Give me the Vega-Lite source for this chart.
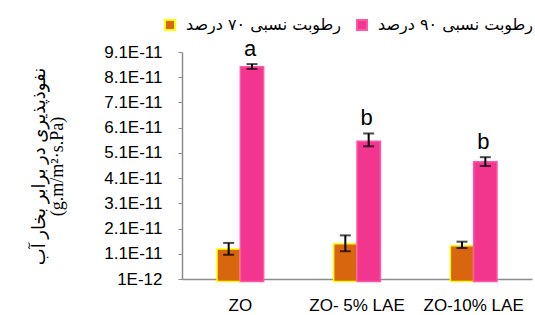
{
  "$schema": "https://vega.github.io/schema/vega-lite/v6.json",
  "autosize": {"type": "none"},
  "padding": {"left": 182, "top": 52, "right": 3, "bottom": 36},
  "width": 350,
  "height": 227,
  "background": "white",
  "config": {
    "view": {"stroke": null},
    "legend": {"labelLimit": 0},
    "axisY": {
      "labelOverlap": false, "labelFlush": false, "labelBound": false,
      "grid": false, "tickSize": 4, "tickColor": "#8c8c8c", "domainColor": "#8c8c8c", "domainWidth": 1.5,
      "labelPadding": 16, "labelFont": "Liberation Sans", "labelFontSize": 17, "labelColor": "#000000",
      "titleAngle": -90, "titleX": -143, "titleY": 114, "titleAlign": "center", "titleBaseline": "middle",
      "titleFont": "Liberation Serif, DejaVu Sans", "titleFontSize": 18, "titleFontWeight": "normal", "titleColor": "#000000", "titleLineHeight": 18
    }
  },
  "data": {"values": [
    {"treatment": "ZO", "series": "رطوبت نسبی  ۷۰ درصد", "value": 1.29e-11, "lo": 1.06e-11, "hi": 1.53e-11, "letter": ""},
    {"treatment": "ZO", "series": "رطوبت نسبی  ۹۰ درصد", "value": 8.52e-11, "lo": 8.43e-11, "hi": 8.62e-11, "letter": "a"},
    {"treatment": "ZO- 5% LAE", "series": "رطوبت نسبی  ۷۰ درصد", "value": 1.50e-11, "lo": 1.20e-11, "hi": 1.83e-11, "letter": ""},
    {"treatment": "ZO- 5% LAE", "series": "رطوبت نسبی  ۹۰ درصد", "value": 5.56e-11, "lo": 5.36e-11, "hi": 5.87e-11, "letter": "b"},
    {"treatment": "ZO-10% LAE", "series": "رطوبت نسبی  ۷۰ درصد", "value": 1.42e-11, "lo": 1.33e-11, "hi": 1.58e-11, "letter": ""},
    {"treatment": "ZO-10% LAE", "series": "رطوبت نسبی  ۹۰ درصد", "value": 4.75e-11, "lo": 4.58e-11, "hi": 4.93e-11, "letter": "b"}
  ]},
  "encoding": {
    "x": {
      "field": "treatment", "type": "nominal", "sort": null,
      "scale": {"paddingInner": 0.6, "paddingOuter": 0.3},
      "axis": {"title": null, "labelAngle": 0, "ticks": false, "labelPadding": 18, "labelFont": "Liberation Sans", "labelFontSize": 17, "labelColor": "#000000", "domainColor": "#8c8c8c", "domainWidth": 1.5}
    },
    "xOffset": {"field": "series", "type": "nominal", "sort": ["رطوبت نسبی  ۷۰ درصد", "رطوبت نسبی  ۹۰ درصد"]}
  },
  "layer": [
    {
      "mark": {"type": "bar", "strokeWidth": 1.5},
      "encoding": {
        "y": {
          "field": "value", "type": "quantitative",
          "scale": {"domain": [1e-12, 9.1e-11], "nice": false, "zero": false},
          "axis": {
            "values": [1e-12, 1.1e-11, 2.1e-11, 3.1e-11, 4.1e-11, 5.1e-11, 6.1e-11, 7.1e-11, 8.1e-11, 9.1e-11],
            "labelExpr": "upper(format(datum.value, '.2~e'))", "labelOverlap": false,
            "title": ["نفوذپذیری در برابر  بخار آب", "(g.m/m²·s.Pa)"]
          }
        },
        "color": {
          "field": "series", "type": "nominal",
          "scale": {"domain": ["رطوبت نسبی  ۷۰ درصد", "رطوبت نسبی  ۹۰ درصد"], "range": ["#D8660E", "#F2368F"]},
          "legend": {
            "title": null, "orient": "none", "legendX": -20, "legendY": -35, "direction": "horizontal",
            "symbolType": "square", "symbolSize": 100, "symbolStrokeWidth": 2, "symbolOpacity": 1,
            "labelFont": "DejaVu Sans", "labelFontSize": 16, "labelColor": "#000000", "labelOffset": 8, "labelLimit": 0, "columnPadding": 6, "padding": 0
          }
        },
        "stroke": {
          "field": "series", "type": "nominal",
          "scale": {"domain": ["رطوبت نسبی  ۷۰ درصد", "رطوبت نسبی  ۹۰ درصد"], "range": ["#FFFF00", "#FF55AA"]},
          "legend": null
        }
      }
    },
    {
      "mark": {"type": "rule", "color": "#000000", "strokeWidth": 2},
      "encoding": {"y": {"field": "lo", "type": "quantitative", "axis": {
            "values": [1e-12, 1.1e-11, 2.1e-11, 3.1e-11, 4.1e-11, 5.1e-11, 6.1e-11, 7.1e-11, 8.1e-11, 9.1e-11],
            "labelExpr": "upper(format(datum.value, '.2~e'))", "labelOverlap": false,
            "title": ["نفوذپذیری در برابر  بخار آب", "(g.m/m²·s.Pa)"]}}, "y2": {"field": "hi"}}
    },
    {
      "mark": {"type": "tick", "color": "#000000", "size": 11, "thickness": 2},
      "encoding": {"y": {"field": "lo", "type": "quantitative", "axis": {
            "values": [1e-12, 1.1e-11, 2.1e-11, 3.1e-11, 4.1e-11, 5.1e-11, 6.1e-11, 7.1e-11, 8.1e-11, 9.1e-11],
            "labelExpr": "upper(format(datum.value, '.2~e'))", "labelOverlap": false,
            "title": ["نفوذپذیری در برابر  بخار آب", "(g.m/m²·s.Pa)"]}}}
    },
    {
      "mark": {"type": "tick", "color": "#000000", "size": 11, "thickness": 2},
      "encoding": {"y": {"field": "hi", "type": "quantitative", "axis": {
            "values": [1e-12, 1.1e-11, 2.1e-11, 3.1e-11, 4.1e-11, 5.1e-11, 6.1e-11, 7.1e-11, 8.1e-11, 9.1e-11],
            "labelExpr": "upper(format(datum.value, '.2~e'))", "labelOverlap": false,
            "title": ["نفوذپذیری در برابر  بخار آب", "(g.m/m²·s.Pa)"]}}}
    },
    {
      "mark": {"type": "text", "baseline": "alphabetic", "dy": -8, "dx": -2, "font": "Liberation Sans", "fontSize": 22, "color": "#000000"},
      "encoding": {"y": {"field": "hi", "type": "quantitative", "axis": {
            "values": [1e-12, 1.1e-11, 2.1e-11, 3.1e-11, 4.1e-11, 5.1e-11, 6.1e-11, 7.1e-11, 8.1e-11, 9.1e-11],
            "labelExpr": "upper(format(datum.value, '.2~e'))", "labelOverlap": false,
            "title": ["نفوذپذیری در برابر  بخار آب", "(g.m/m²·s.Pa)"]}}, "text": {"field": "letter"}}
    }
  ]
}
